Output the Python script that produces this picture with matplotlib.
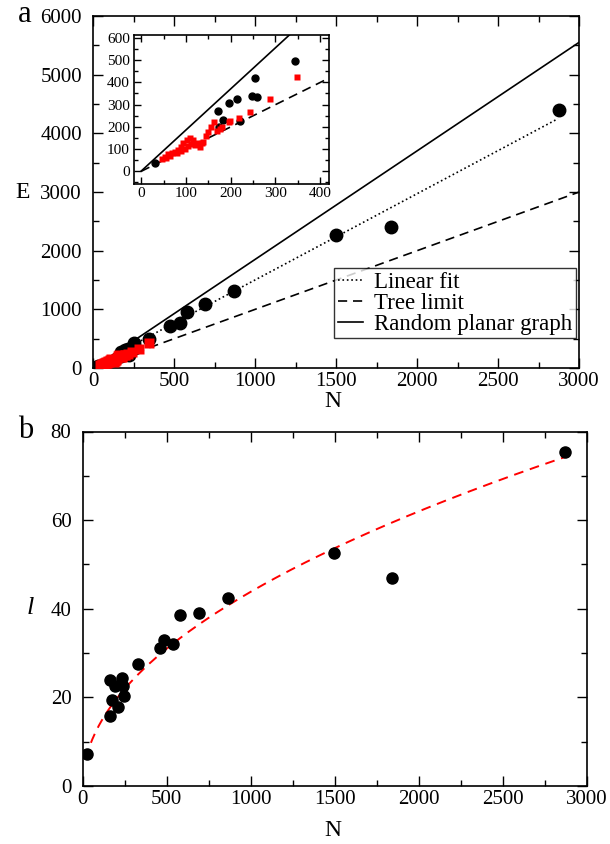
import numpy as np
import matplotlib
matplotlib.use("Agg")
import matplotlib.pyplot as plt
from matplotlib.ticker import MultipleLocator

plt.rcParams["font.family"] = ["Liberation Serif", "DejaVu Serif"]

# panel a: black circles (N, E)
black_N = [31, 172, 174, 183, 197, 214, 221, 247, 254, 259, 343,
           476, 538, 580, 693, 868, 1497, 1841, 2876]
black_E = [36, 272, 198, 231, 306, 324, 227, 340, 421, 336, 496,
           716, 772, 960, 1083, 1313, 2268, 2409, 4399]

# panel a: red squares (N, E)
red_N = [46, 53, 55, 61, 65, 68, 75, 80, 83, 88, 90, 94, 97, 102, 105, 109,
         112, 116, 120, 124, 131, 135, 139, 144, 150, 157, 162, 170, 176,
         181, 196, 198, 218, 243, 287, 348]
red_E = [54, 65, 58, 76, 68, 80, 88, 82, 95, 90, 110, 126, 100, 140, 112, 151,
         122, 140, 118, 128, 110, 125, 133, 159, 178, 200, 223, 180, 189,
         198, 223, 226, 241, 265, 325, 423]

# model lines
planar_slope = 1.85
fit_slope, fit_icpt = 1.47, 30.0
fit_range = [30, 2870]

# panel b: path length l vs N
b_N = [24, 163, 163, 173, 193, 212, 232, 242, 248, 331, 460, 486, 539,
       579, 692, 866, 1495, 1838, 2872]
b_l = [7.15, 23.9, 15.8, 19.4, 22.6, 17.9, 24.3, 22.6, 20.2, 27.5, 31.2,
       33.0, 32.0, 38.7, 39.0, 42.5, 52.5, 46.9, 75.3]
l_coef, l_exp = 1.386, 0.5
l_fit_range = [20, 2872]

W, H = 610, 844
fig = plt.figure(figsize=(W / 100, H / 100), dpi=100)


def frac(l, t, r, b):
    return [l / W, 1 - b / H, (r - l) / W, (b - t) / H]


def style(ax, fs, major_len=7, minor_len=4, xpad=4, ypad=7):
    ax.tick_params(which="both", direction="in", top=True, right=True,
                   labelsize=fs, width=1)
    ax.tick_params(which="major", length=major_len)
    ax.tick_params(which="minor", length=minor_len)
    ax.tick_params(axis="x", pad=xpad)
    ax.tick_params(axis="y", pad=ypad)
    for s in ax.spines.values():
        s.set_linewidth(1.2)


# ---- panel a main
ax = fig.add_axes(frac(93, 16, 579, 368))
xx = np.array([0, 3000])
ax.plot(xx, planar_slope * xx, "k-", lw=1.2, label="Random planar graph")
ax.plot(xx, xx - 1, "k--", lw=1.2, dashes=(5.5, 3.5), label="Tree limit")
fx = np.array(fit_range)
ax.plot(fx, fit_slope * fx + fit_icpt, "k:", lw=1.2, label="Linear fit")
ax.plot(black_N, black_E, "o", color="black", ms=9, zorder=3)
ax.plot(red_N, red_E, "s", color="red", ms=7.5, mec="none", zorder=4)
ax.set_xlim(0, 3000)
ax.set_ylim(0, 6000)
ax.xaxis.set_major_locator(MultipleLocator(500))
ax.xaxis.set_minor_locator(MultipleLocator(250))
ax.yaxis.set_major_locator(MultipleLocator(1000))
ax.yaxis.set_minor_locator(MultipleLocator(500))
style(ax, 15, xpad=3, ypad=8)

h, lab = ax.get_legend_handles_labels()
order = [2, 1, 0]
leg = ax.legend([h[i] for i in order], [lab[i] for i in order],
                loc="lower right", bbox_to_anchor=(0.994, 0.085),
                fontsize=16.5, frameon=True, fancybox=False, handlelength=1.1,
                handletextpad=0.5, borderpad=0.15, labelspacing=0.0,
                borderaxespad=0)
leg.get_frame().set_edgecolor("black")
leg.get_frame().set_linewidth(1.0)

# ---- inset
ins = fig.add_axes(frac(134, 35, 329, 184))
xi = np.array([0, 420])
ins.plot(xi, planar_slope * xi, "k-", lw=1.2)
ins.plot(xi, xi - 1, "k--", lw=1.2, dashes=(5.5, 3.5))
ins.plot(black_N, black_E, "o", color="black", ms=5, zorder=3)
ins.plot(red_N, red_E, "s", color="red", ms=4.5, mec="none", zorder=4)
ins.set_xlim(-16, 420)
ins.set_ylim(-58, 613)
ins.xaxis.set_major_locator(MultipleLocator(100))
ins.xaxis.set_minor_locator(MultipleLocator(50))
ins.yaxis.set_major_locator(MultipleLocator(100))
ins.yaxis.set_minor_locator(MultipleLocator(50))
style(ins, 11, major_len=5, minor_len=3, xpad=2, ypad=3)

fig.text(18 / W, 1 - 15 / H, "a", fontsize=22, ha="left", va="center")
fig.text(23 / W, 1 - 193 / H, "E", fontsize=17, ha="center", va="center")
fig.text(333 / W, 1 - 401 / H, "N", fontsize=17, ha="center", va="center")

# ---- panel b
bx = fig.add_axes(frac(82.6, 431.5, 587, 786))
nn = np.linspace(l_fit_range[0], l_fit_range[1], 300)
bx.plot(nn, l_coef * nn ** l_exp, "--", color="red", lw=1.4, dashes=(5, 3.5))
bx.plot(b_N, b_l, "o", color="black", ms=8, zorder=3)
bx.set_xlim(0, 3000)
bx.set_ylim(0, 80)
bx.xaxis.set_major_locator(MultipleLocator(500))
bx.xaxis.set_minor_locator(MultipleLocator(250))
bx.yaxis.set_major_locator(MultipleLocator(20))
bx.yaxis.set_minor_locator(MultipleLocator(10))
style(bx, 15, xpad=3, ypad=8)

fig.text(18 / W, 1 - 431 / H, "b", fontsize=22, ha="left", va="center")
fig.text(30 / W, 1 - 608 / H, "l", fontsize=19, fontstyle="italic",
         ha="center", va="center")
fig.text(333 / W, 1 - 830 / H, "N", fontsize=17, ha="center", va="center")

fig.savefig("out.png", dpi=100)
